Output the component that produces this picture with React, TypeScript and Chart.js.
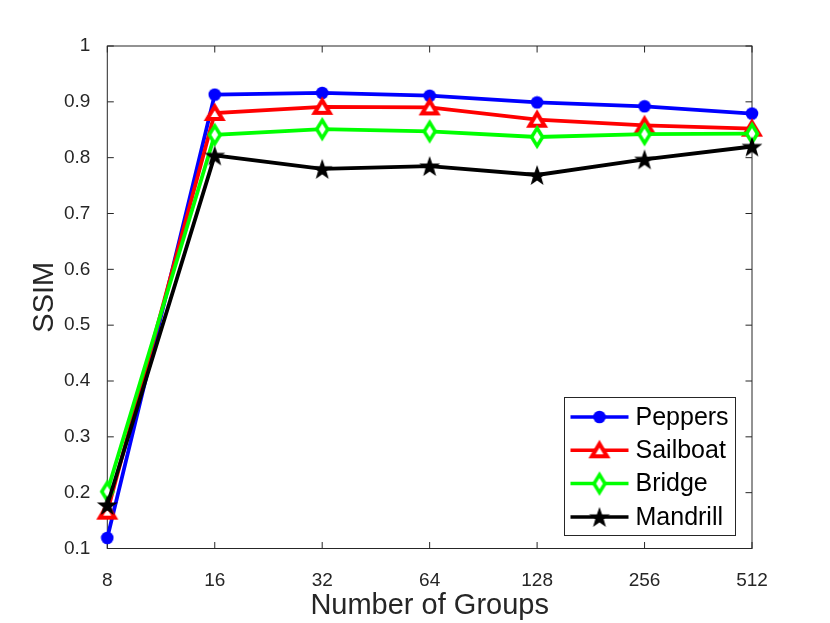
import { useEffect, useRef } from "react";
import { Chart, registerables } from "chart.js";

Chart.register(...registerables);

const groups = ["8", "16", "32", "64", "128", "256", "512"];
const peppers = [0.119, 0.913, 0.916, 0.911, 0.899, 0.892, 0.879];
const sailboat = [0.166, 0.88, 0.891, 0.89, 0.868, 0.858, 0.852];
const bridge = [0.202, 0.841, 0.851, 0.847, 0.837, 0.842, 0.843];
const mandrill = [0.178, 0.804, 0.78, 0.785, 0.769, 0.797, 0.82];
const seriesNames = ["Peppers", "Sailboat", "Bridge", "Mandrill"];

const FONT = "'Liberation Sans', Arial, Helvetica, sans-serif";
const AXIS = "#262626";

const makeMarker = (
  w: number,
  h: number,
  draw: (ctx: CanvasRenderingContext2D, cx: number, cy: number) => void
) => {
  const c = document.createElement("canvas");
  c.width = w;
  c.height = h;
  const ctx = c.getContext("2d");
  if (ctx) draw(ctx, w / 2, h / 2);
  return c;
};

const circleMarker = () =>
  makeMarker(14, 14, (ctx, cx, cy) => {
    ctx.fillStyle = "#0000ff";
    ctx.beginPath();
    ctx.arc(cx, cy, 6.3, 0, Math.PI * 2);
    ctx.fill();
  });

const triangleMarker = () =>
  makeMarker(26, 24, (ctx, cx, cy) => {
    ctx.strokeStyle = "#ff0000";
    ctx.fillStyle = "#ffffff";
    ctx.lineWidth = 4;
    ctx.lineJoin = "miter";
    ctx.beginPath();
    ctx.moveTo(cx, cy - 6.5);
    ctx.lineTo(cx + 7.5, cy + 6);
    ctx.lineTo(cx - 7.5, cy + 6);
    ctx.closePath();
    ctx.fill();
    ctx.stroke();
  });

const diamondMarker = () =>
  makeMarker(18, 26, (ctx, cx, cy) => {
    ctx.strokeStyle = "#00ff00";
    ctx.fillStyle = "#ffffff";
    ctx.lineWidth = 3.5;
    ctx.beginPath();
    ctx.moveTo(cx, cy - 9);
    ctx.lineTo(cx + 5.5, cy);
    ctx.lineTo(cx, cy + 9);
    ctx.lineTo(cx - 5.5, cy);
    ctx.closePath();
    ctx.fill();
    ctx.stroke();
  });

const starMarker = () =>
  makeMarker(26, 26, (ctx, cx, cy) => {
    ctx.fillStyle = "#000000";
    ctx.beginPath();
    for (let i = 0; i < 10; i++) {
      const r = i % 2 === 0 ? 11 : 4.4;
      const a = -Math.PI / 2 + (i * Math.PI) / 5;
      const px = cx + r * Math.cos(a);
      const py = cy + 1 + r * Math.sin(a);
      if (i === 0) ctx.moveTo(px, py);
      else ctx.lineTo(px, py);
    }
    ctx.closePath();
    ctx.fill();
  });

const App = () => {
  const canvasRef = useRef<HTMLCanvasElement>(null);

  useEffect(() => {
    document.body.style.margin = "0";
    if (!canvasRef.current) return;
    const ctx = canvasRef.current.getContext("2d");
    if (!ctx) return;

    const markers = [circleMarker(), triangleMarker(), diamondMarker(), starMarker()];
    const colors = ["#0000ff", "#ff0000", "#00ff00", "#000000"];
    const values = [peppers, sailboat, bridge, mandrill];

    // box + inward ticks, MATLAB style
    const boxPlugin = {
      id: "box",
      beforeDatasetsDraw(chart: any) {
        const { ctx: c, chartArea: a, scales } = chart;
        const tl = 6.5;
        c.save();
        c.strokeStyle = AXIS;
        c.lineWidth = 1;
        c.beginPath();
        scales.x.ticks.forEach((_: any, i: number) => {
          const x = scales.x.getPixelForTick(i);
          c.moveTo(x, a.bottom);
          c.lineTo(x, a.bottom - tl);
          c.moveTo(x, a.top);
          c.lineTo(x, a.top + tl);
        });
        scales.y.ticks.forEach((t: any) => {
          const y = scales.y.getPixelForValue(t.value);
          c.moveTo(a.left, y);
          c.lineTo(a.left + tl, y);
          c.moveTo(a.right, y);
          c.lineTo(a.right - tl, y);
        });
        c.stroke();
        c.strokeRect(a.left, a.top, a.right - a.left, a.bottom - a.top);
        c.restore();
      },
    };

    const legendPlugin = {
      id: "boxLegend",
      afterDraw(chart: any) {
        const c = chart.ctx;
        const bx = 564.5;
        const by = 397.5;
        const bw = 171;
        const bh = 138;
        c.save();
        c.fillStyle = "#ffffff";
        c.fillRect(bx, by, bw, bh);
        c.strokeStyle = AXIS;
        c.lineWidth = 1;
        c.strokeRect(bx, by, bw, bh);
        c.font = `25px ${FONT}`;
        c.textBaseline = "middle";
        seriesNames.forEach((name, i) => {
          const y = by + 19.5 + i * 33.3;
          c.strokeStyle = colors[i];
          c.lineWidth = 3.5;
          c.beginPath();
          c.moveTo(bx + 6, y);
          c.lineTo(bx + 64, y);
          c.stroke();
          const m = markers[i];
          c.drawImage(m, bx + 35 - m.width / 2, y - m.height / 2);
          c.fillStyle = "#000000";
          c.fillText(name, bx + 71, y + 1);
        });
        c.restore();
      },
    };

    const chart = new Chart(ctx, {
      type: "line",
      data: {
        labels: groups,
        datasets: seriesNames.map((name, i) => ({
          label: name,
          data: values[i],
          borderColor: colors[i],
          backgroundColor: colors[i],
          borderWidth: 3.8,
          pointStyle: markers[i],
          pointRadius: 8,
          pointHoverRadius: 8,
          tension: 0,
          clip: false as any,
          order: 4 - i,
        })),
      },
      options: {
        animation: false,
        responsive: false,
        events: [],
        layout: { padding: { left: 0, top: 46, right: 78, bottom: 0 } },
        plugins: {
          legend: { display: false },
          tooltip: { enabled: false },
        },
        scales: {
          x: {
            type: "category",
            offset: false,
            grid: { display: false },
            border: { display: false },
            ticks: {
              color: AXIS,
              font: { family: FONT, size: 19 },
              padding: 13,
              maxRotation: 0,
              autoSkip: false,
            },
            title: {
              display: true,
              text: "Number of Groups",
              color: AXIS,
              font: { family: FONT, size: 29 },
              padding: { top: 0, bottom: 0 },
            },
            afterFit(scale: any) {
              scale.height = 74.5;
            },
          },
          y: {
            min: 0.1,
            max: 1,
            grid: { display: false },
            border: { display: false },
            ticks: {
              stepSize: 0.1,
              color: AXIS,
              font: { family: FONT, size: 19 },
              padding: 9,
              callback: (v: any) => String(Number(Number(v).toFixed(1))),
            },
            title: {
              display: true,
              text: "SSIM",
              color: AXIS,
              font: { family: FONT, size: 29 },
              padding: { top: 28, bottom: 0 },
            },
            afterFit(scale: any) {
              scale.width = 107.3;
            },
          },
        },
      },
      plugins: [boxPlugin, legendPlugin],
    });

    return () => {
      chart.destroy();
    };
  }, []);

  return <canvas ref={canvasRef} width={830} height={623} style={{ display: "block" }}></canvas>;
};

export default App;
